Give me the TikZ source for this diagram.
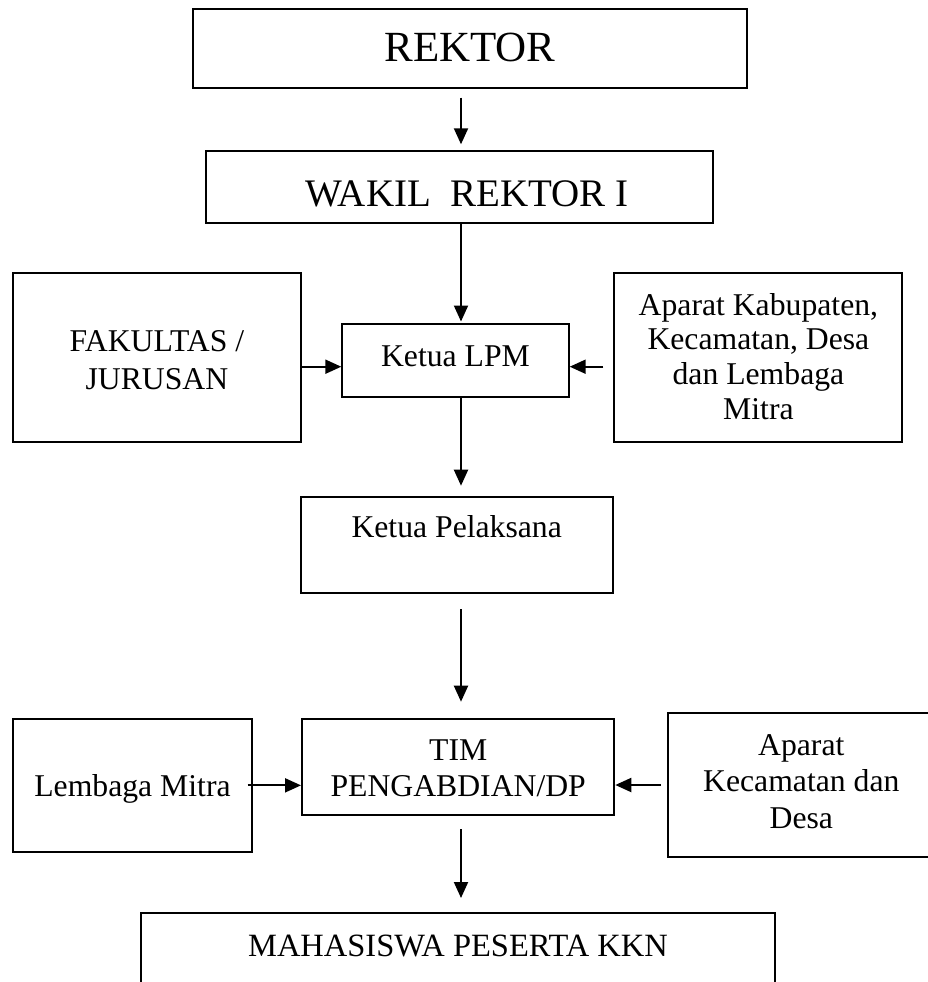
\documentclass[tikz,border=0pt]{standalone}
\usepackage{fontspec}
\setmainfont{Liberation Serif}
\usetikzlibrary{arrows.meta}
\begin{document}
\begin{tikzpicture}[x=1pt,y=-1pt,
  box/.style={draw, line width=2pt, inner sep=0pt, anchor=center},
  arr/.style={draw, line width=2pt, -{Triangle[length=16pt,width=14pt]}},
  txt/.style={inner sep=0pt, anchor=base, font=\fontsize{31.7}{36}\selectfont},
  mtxt/.style={txt, align=flush center, text width=300pt}]
\useasboundingbox (0,0) rectangle (928,982);
\clip (0,0) rectangle (928,982);
\fill[white] (0,0) rectangle (928,982);
% boxes
\node[box, minimum width=554pt, minimum height=79pt] (rek) at (470,48.5) {};
\node[box, minimum width=507pt, minimum height=72pt] (wak) at (459.5,187) {};
\node[box, minimum width=288.3pt, minimum height=168.4pt] (fak) at (156.9,357.5) {};
\node[box, minimum width=226.4pt, minimum height=72.7pt] (lpm) at (455.5,360.35) {};
\node[box, minimum width=288.1pt, minimum height=168.4pt] (apk) at (758.35,357.5) {};
\node[box, minimum width=312pt, minimum height=96.3pt] (pel) at (456.7,544.85) {};
\node[box, minimum width=312.3pt, minimum height=96pt] (tim) at (458.15,767.3) {};
\node[box, minimum width=239.6pt, minimum height=132.7pt] (lem) at (132.5,785.35) {};
\node[box, minimum width=265.7pt, minimum height=143.4pt] (ake) at (801.15,785) {};
\node[box, minimum width=634pt, minimum height=87.5pt] (mhs) at (458,956.25) {};
% texts
\node[txt, font=\fontsize{43}{50}\selectfont] (trek) at (470,62) {REKTOR};
\node[txt, font=\fontsize{39}{44}\selectfont] (twak) at (467,206) {WAKIL\ \ REKTOR I};
\node[mtxt, font=\fontsize{31.7}{37.6}\selectfont] (tfak) at (156.9,351.7) {FAKULTAS /\\JURUSAN};
\node[txt] (tlpm) at (455.5,366) {Ketua LPM};
\node[mtxt, font=\fontsize{31.7}{34.7}\selectfont] (tapk) at (758.4,315) {Aparat Kabupaten,\\Kecamatan, Desa\\dan Lembaga\\Mitra};
\node[txt] (tpel) at (456.7,537.3) {Ketua Pelaksana};
\node[mtxt, font=\fontsize{31.7}{36.3}\selectfont] (ttim) at (458.2,760.6) {TIM\\PENGABDIAN/DP};
\node[txt] (tlem) at (132.5,796.7) {Lembaga Mitra};
\node[mtxt, font=\fontsize{31.7}{36.7}\selectfont] (take) at (801.3,755) {Aparat\\Kecamatan dan\\Desa};
\node[txt, font=\fontsize{32.5}{36}\selectfont] (tmhs) at (458,956) {MAHASISWA PESERTA KKN};
% connectors
\coordinate (ax) at (461,0);
\coordinate (hy) at (0,366.7);
\draw[arr, shorten <=8.7pt, shorten >=5.7pt] (rek.south -| ax) -- (wak.north -| ax);
\draw[arr, shorten >=1.5pt] (wak.south -| ax) -- (lpm.north -| ax);
\draw[arr] (fak.east |- hy) -- (lpm.west |- hy);
\draw[arr, shorten <=10pt] (apk.west |- hy) -- (lpm.east |- hy);
\draw[arr, shorten >=10pt] (lpm.south -| ax) -- (pel.north -| ax);
\draw[arr, shorten <=15pt, shorten >=16.6pt] (pel.south -| ax) -- (tim.north -| ax);
\draw[arr, shorten <=-5.6pt] (lem.east) -- (tim.west |- lem.east);
\draw[arr, shorten <=6.6pt] (ake.west) -- (tim.east |- ake.west);
\draw[arr, shorten <=12.7pt, shorten >=13.5pt] (tim.south -| ax) -- (mhs.north -| ax);
\end{tikzpicture}
\end{document}
